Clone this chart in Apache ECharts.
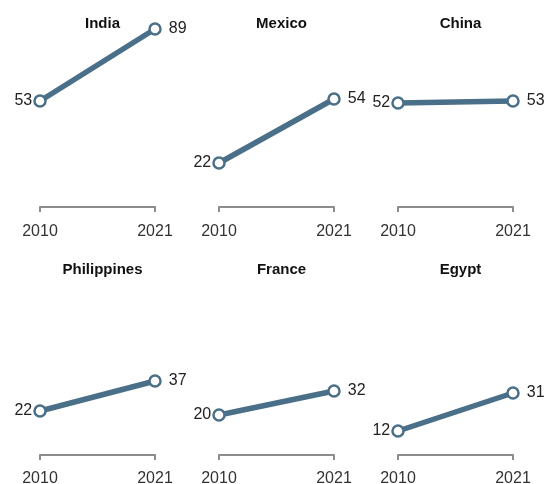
<!DOCTYPE html>
<html>
<head>
<meta charset="utf-8">
<style>html,body{margin:0;padding:0;background:#fff;}#c{width:551px;height:484px;}</style>
<script src="https://cdn.jsdelivr.net/npm/echarts@6/dist/echarts.min.js"></script>
</head>
<body>
<div id="c"></div>
<script>
const countries = ['India', 'Mexico', 'China', 'Philippines', 'France', 'Egypt'];
const years = ['2010', '2021'];
const v2010 = [53, 22, 52, 22, 20, 12];
const v2021 = [89, 54, 53, 37, 32, 31];

const colLeft = [40, 219, 398];
const rowTop = [7, 255];
const panelW = 115, panelH = 202;
const lineColor = '#4a6f88';
const font = '"Liberation Sans", Arial, sans-serif';

const grids = [], xAxes = [], yAxes = [], series = [], titles = [];
countries.forEach((name, i) => {
  const c = i % 3, r = Math.floor(i / 3);
  grids.push({left: colLeft[c], top: rowTop[r], width: panelW, height: panelH, containLabel: false, outerBoundsMode: 'none'});
  xAxes.push({
    type: 'category', gridIndex: i, data: years, boundaryGap: false,
    axisLine: {show: true, lineStyle: {color: '#8c8c8c', width: 2}},
    axisTick: {show: true, length: 5, lineStyle: {color: '#8c8c8c', width: 2}},
    axisLabel: {fontSize: 16, color: '#333', margin: r === 0 ? 15 : 14, fontFamily: font}
  });
  yAxes.push({type: 'value', gridIndex: i, min: -1, max: 100, show: false, splitLine: {show: false}});
  titles.push({
    text: name, left: colLeft[c] + panelW / 2, top: r === 0 ? 11 : 257, textAlign: 'center',
    textStyle: {fontSize: 15, fontWeight: 'bold', color: '#111', fontFamily: font}
  });
  series.push({
    type: 'line', xAxisIndex: i, yAxisIndex: i,
    data: [
      {value: v2010[i], label: {position: 'left', distance: 1}},
      {value: v2021[i], label: {position: 'right', distance: 7}}
    ],
    symbol: 'circle', symbolSize: 11,
    itemStyle: {color: '#fff', borderColor: lineColor, borderWidth: 2.5},
    lineStyle: {color: lineColor, width: 5.5},
    label: {show: true, fontSize: 16, color: '#222', fontFamily: font},
    z: 3, animation: false
  });
});

const chart = echarts.init(document.getElementById('c'), null, {renderer: 'canvas'});
chart.setOption({
  animation: false,
  title: titles,
  grid: grids,
  xAxis: xAxes,
  yAxis: yAxes,
  series: series
});
</script>
</body>
</html>
